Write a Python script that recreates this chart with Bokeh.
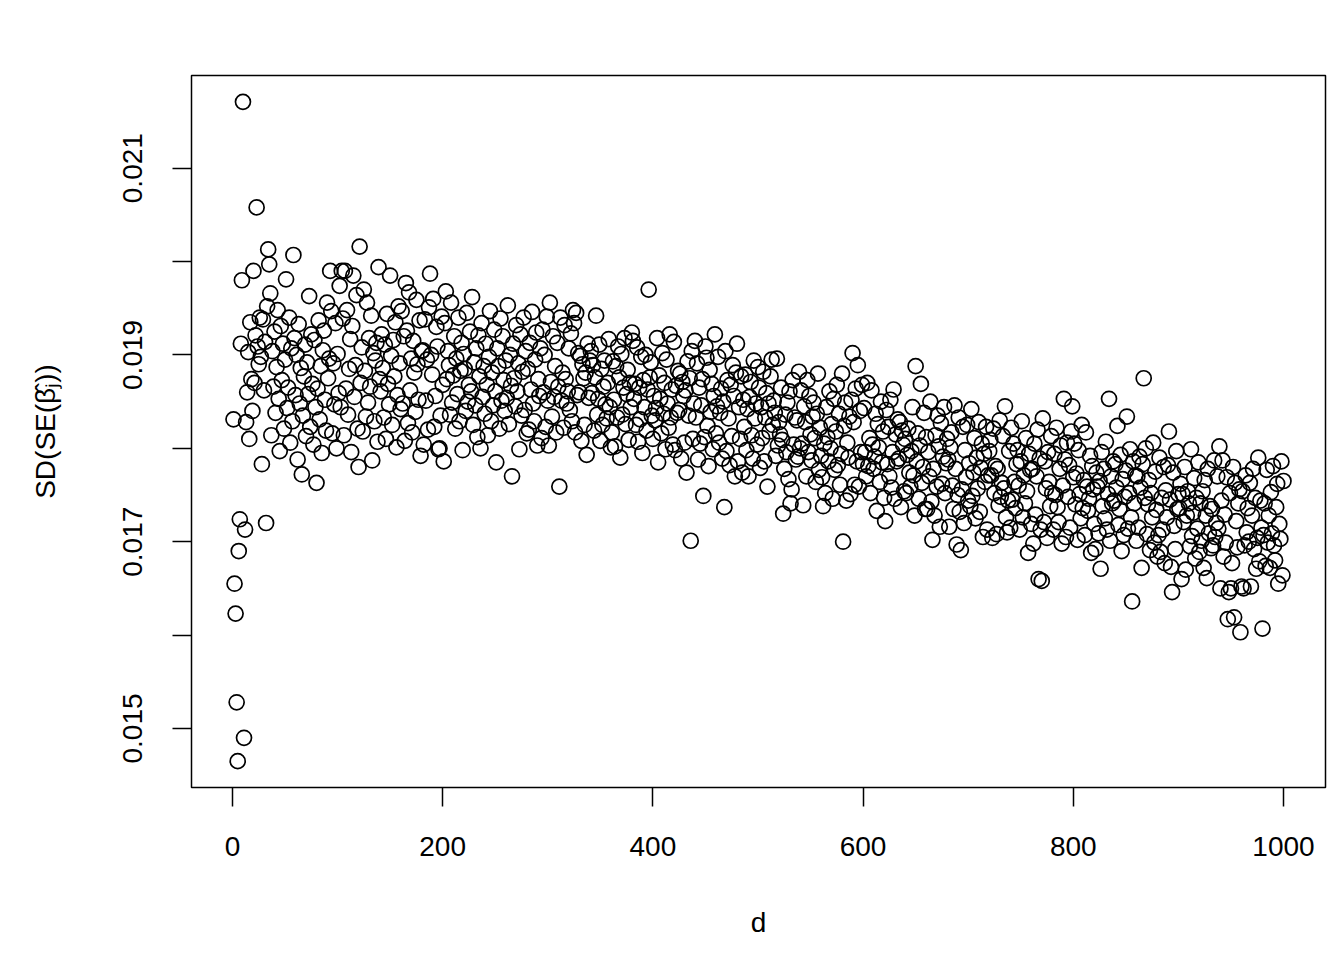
from bokeh.plotting import figure
from bokeh.models import Range1d, FixedTicker, CustomJSTickFormatter
from bokeh.embed import file_html
from bokeh.resources import INLINE

# SD of the standard errors, one value per d = 1..1000
sd_se = [
    0.01831, 0.01655, 0.01623, 0.01528, 0.01465, 0.01690, 0.01724, 0.01912, 0.01980, 0.02171, 0.01490, 0.01713, 0.01828, 0.01860, 0.01903, 0.01810, 0.01935, 0.01874, 0.01840, 0.01990,
    0.01870, 0.01921, 0.02058, 0.01909, 0.01890, 0.01940, 0.01898, 0.01783, 0.01938, 0.01862, 0.01914, 0.01720, 0.01952, 0.02013, 0.01997, 0.01966, 0.01814, 0.01904, 0.01866, 0.01925,
    0.01838, 0.01887, 0.01948, 0.01853, 0.01797, 0.01931, 0.01873, 0.01912, 0.01821, 0.01895, 0.01981, 0.01843, 0.01865, 0.01940, 0.01806, 0.01907, 0.01829, 0.02007, 0.01918, 0.01857,
    0.01900, 0.01788, 0.01933, 0.01848, 0.01886, 0.01772, 0.01835, 0.01877, 0.01911, 0.01813, 0.01892, 0.01858, 0.01963, 0.01823, 0.01922, 0.01869, 0.01804, 0.01916, 0.01844, 0.01763,
    0.01864, 0.01937, 0.01831, 0.01888, 0.01795, 0.01905, 0.01926, 0.01852, 0.01819, 0.01956, 0.01875, 0.01896, 0.01990, 0.01947, 0.01816, 0.01891, 0.01847, 0.01934, 0.01800, 0.01901,
    0.01859, 0.01974, 0.01844, 0.01990, 0.01939, 0.01814, 0.01990, 0.01864, 0.01948, 0.01836, 0.01885, 0.01917, 0.01796, 0.01931, 0.01985, 0.01855, 0.01889, 0.01964, 0.01821, 0.01780,
    0.02016, 0.01870, 0.01908, 0.01818, 0.01970, 0.01883, 0.01834, 0.01956, 0.01849, 0.01918, 0.01866, 0.01942, 0.01787, 0.01902, 0.01829, 0.01894, 0.01913, 0.01807, 0.01994, 0.01874,
    0.01861, 0.01922, 0.01886, 0.01833, 0.01911, 0.01810, 0.01944, 0.01869, 0.01847, 0.01985, 0.01899, 0.01825, 0.01916, 0.01877, 0.01935, 0.01801, 0.01857, 0.01952, 0.01891, 0.01842,
    0.01947, 0.01848, 0.01920, 0.01808, 0.01977, 0.01926, 0.01827, 0.01967, 0.01862, 0.01896, 0.01817, 0.01915, 0.01881, 0.01839, 0.01959, 0.01890, 0.01852, 0.01937, 0.01792, 0.01904,
    0.01905, 0.01804, 0.01938, 0.01851, 0.01895, 0.01820, 0.01951, 0.01987, 0.01900, 0.01879, 0.01960, 0.01823, 0.01856, 0.01930, 0.01909, 0.01799, 0.01800, 0.01835, 0.01941, 0.01868,
    0.01786, 0.01934, 0.01968, 0.01874, 0.01904, 0.01889, 0.01836, 0.01956, 0.01849, 0.01878, 0.01920, 0.01821, 0.01896, 0.01858, 0.01940, 0.01829, 0.01883, 0.01913, 0.01798, 0.01901,
    0.01885, 0.01840, 0.01945, 0.01850, 0.01868, 0.01925, 0.01861, 0.01962, 0.01825, 0.01892, 0.01846, 0.01907, 0.01812, 0.01921, 0.01877, 0.01800, 0.01934, 0.01855, 0.01888, 0.01837,
    0.01912, 0.01868, 0.01814, 0.01898, 0.01947, 0.01829, 0.01881, 0.01846, 0.01927, 0.01861, 0.01785, 0.01907, 0.01888, 0.01821, 0.01939, 0.01851, 0.01920, 0.01873, 0.01840, 0.01894,
    0.01854, 0.01953, 0.01826, 0.01900, 0.01867, 0.01770, 0.01912, 0.01875, 0.01845, 0.01932, 0.01861, 0.01891, 0.01799, 0.01922, 0.01835, 0.01882, 0.01940, 0.01841, 0.01904, 0.01816,
    0.01885, 0.01820, 0.01913, 0.01863, 0.01946, 0.01848, 0.01829, 0.01895, 0.01924, 0.01803, 0.01874, 0.01856, 0.01907, 0.01811, 0.01927, 0.01860, 0.01900, 0.01823, 0.01941, 0.01851,
    0.01803, 0.01956, 0.01871, 0.01834, 0.01920, 0.01855, 0.01888, 0.01817, 0.01913, 0.01866, 0.01759, 0.01940, 0.01851, 0.01881, 0.01822, 0.01932, 0.01874, 0.01848, 0.01861, 0.01907,
    0.01841, 0.01923, 0.01829, 0.01948, 0.01934, 0.01817, 0.01945, 0.01857, 0.01902, 0.01860, 0.01899, 0.01808, 0.01890, 0.01875, 0.01825, 0.01881, 0.01793, 0.01912, 0.01854, 0.01894,
    0.01904, 0.01859, 0.01889, 0.01819, 0.01876, 0.01942, 0.01836, 0.01853, 0.01911, 0.01808, 0.01885, 0.01825, 0.01866, 0.01894, 0.01847, 0.01832, 0.01870, 0.01917, 0.01844, 0.01801,
    0.01817, 0.01893, 0.01852, 0.01802, 0.01888, 0.01833, 0.01909, 0.01876, 0.01790, 0.01901, 0.01836, 0.01865, 0.01918, 0.01826, 0.01858, 0.01884, 0.01809, 0.01870, 0.01844, 0.01924,
    0.01915, 0.01853, 0.01869, 0.01825, 0.01908, 0.01807, 0.01865, 0.01831, 0.01898, 0.01795, 0.01873, 0.01844, 0.01900, 0.01819, 0.01863, 0.01970, 0.01876, 0.01892, 0.01835, 0.01810,
    0.01856, 0.01830, 0.01843, 0.01918, 0.01785, 0.01878, 0.01853, 0.01816, 0.01902, 0.01837, 0.01870, 0.01799, 0.01895, 0.01848, 0.01822, 0.01922, 0.01833, 0.01863, 0.01804, 0.01914,
    0.01798, 0.01867, 0.01838, 0.01883, 0.01841, 0.01880, 0.01789, 0.01871, 0.01856, 0.01806, 0.01862, 0.01774, 0.01893, 0.01835, 0.01875, 0.01701, 0.01904, 0.01810, 0.01848, 0.01915,
    0.01833, 0.01891, 0.01788, 0.01865, 0.01805, 0.01846, 0.01874, 0.01749, 0.01812, 0.01909, 0.01897, 0.01824, 0.01781, 0.01884, 0.01839, 0.01869, 0.01799, 0.01856, 0.01922, 0.01816,
    0.01845, 0.01898, 0.01806, 0.01838, 0.01864, 0.01789, 0.01850, 0.01737, 0.01904, 0.01797, 0.01873, 0.01832, 0.01782, 0.01868, 0.01813, 0.01889, 0.01856, 0.01770, 0.01881, 0.01912,
    0.01786, 0.01844, 0.01810, 0.01877, 0.01774, 0.01852, 0.01823, 0.01879, 0.01798, 0.01842, 0.01770, 0.01855, 0.01871, 0.01814, 0.01789, 0.01894, 0.01832, 0.01848, 0.01804, 0.01887,
    0.01865, 0.01779, 0.01844, 0.01811, 0.01882, 0.01786, 0.01833, 0.01859, 0.01759, 0.01848, 0.01818, 0.01877, 0.01895, 0.01825, 0.01851, 0.01838, 0.01792, 0.01896, 0.01803, 0.01828,
    0.01815, 0.01865, 0.01809, 0.01730, 0.01778, 0.01836, 0.01796, 0.01849, 0.01767, 0.01861, 0.01741, 0.01756, 0.01873, 0.01804, 0.01833, 0.01788, 0.01830, 0.01791, 0.01882, 0.01800,
    0.01862, 0.01805, 0.01739, 0.01845, 0.01828, 0.01770, 0.01873, 0.01796, 0.01856, 0.01815, 0.01787, 0.01834, 0.01849, 0.01811, 0.01764, 0.01837, 0.01880, 0.01777, 0.01822, 0.01792,
    0.01769, 0.01738, 0.01805, 0.01752, 0.01844, 0.01812, 0.01786, 0.01861, 0.01800, 0.01826, 0.01746, 0.01853, 0.01777, 0.01818, 0.01868, 0.01782, 0.01837, 0.01761, 0.01794, 0.01880,
    0.01700, 0.01824, 0.01849, 0.01744, 0.01806, 0.01790, 0.01834, 0.01751, 0.01852, 0.01902, 0.01828, 0.01761, 0.01864, 0.01786, 0.01889, 0.01759, 0.01840, 0.01796, 0.01868, 0.01783,
    0.01843, 0.01796, 0.01770, 0.01870, 0.01781, 0.01811, 0.01752, 0.01862, 0.01804, 0.01778, 0.01791, 0.01837, 0.01733, 0.01826, 0.01801, 0.01764, 0.01850, 0.01785, 0.01818, 0.01747,
    0.01722, 0.01841, 0.01783, 0.01823, 0.01770, 0.01852, 0.01758, 0.01796, 0.01863, 0.01746, 0.01815, 0.01786, 0.01831, 0.01789, 0.01828, 0.01737, 0.01819, 0.01804, 0.01754, 0.01810,
    0.01752, 0.01793, 0.01821, 0.01774, 0.01759, 0.01797, 0.01844, 0.01771, 0.01728, 0.01888, 0.01786, 0.01816, 0.01746, 0.01803, 0.01869, 0.01763, 0.01780, 0.01838, 0.01735, 0.01812,
    0.01735, 0.01796, 0.01770, 0.01850, 0.01743, 0.01702, 0.01778, 0.01728, 0.01814, 0.01759, 0.01835, 0.01802, 0.01716, 0.01827, 0.01762, 0.01791, 0.01844, 0.01752, 0.01784, 0.01810,
    0.01788, 0.01716, 0.01801, 0.01817, 0.01760, 0.01735, 0.01846, 0.01778, 0.01697, 0.01750, 0.01833, 0.01732, 0.01691, 0.01756, 0.01823, 0.01720, 0.01798, 0.01769, 0.01825, 0.01744,
    0.01784, 0.01738, 0.01842, 0.01749, 0.01774, 0.01811, 0.01725, 0.01790, 0.01757, 0.01828, 0.01732, 0.01779, 0.01805, 0.01705, 0.01794, 0.01764, 0.01823, 0.01713, 0.01771, 0.01797,
    0.01809, 0.01771, 0.01704, 0.01821, 0.01752, 0.01781, 0.01708, 0.01778, 0.01739, 0.01830, 0.01748, 0.01763, 0.01813, 0.01757, 0.01845, 0.01726, 0.01710, 0.01744, 0.01797, 0.01715,
    0.01822, 0.01745, 0.01805, 0.01764, 0.01736, 0.01783, 0.01798, 0.01760, 0.01713, 0.01786, 0.01829, 0.01726, 0.01771, 0.01741, 0.01811, 0.01754, 0.01688, 0.01794, 0.01777, 0.01719,
    0.01778, 0.01698, 0.01805, 0.01729, 0.01770, 0.01820, 0.01660, 0.01789, 0.01713, 0.01658, 0.01832, 0.01721, 0.01786, 0.01757, 0.01704, 0.01796, 0.01764, 0.01738, 0.01813, 0.01752,
    0.01713, 0.01794, 0.01750, 0.01822, 0.01737, 0.01721, 0.01778, 0.01803, 0.01698, 0.01760, 0.01853, 0.01788, 0.01705, 0.01806, 0.01748, 0.01782, 0.01715, 0.01818, 0.01845, 0.01769,
    0.01805, 0.01740, 0.01773, 0.01702, 0.01798, 0.01751, 0.01725, 0.01825, 0.01736, 0.01766, 0.01707, 0.01817, 0.01759, 0.01733, 0.01746, 0.01792, 0.01688, 0.01781, 0.01756, 0.01719,
    0.01692, 0.01774, 0.01759, 0.01709, 0.01765, 0.01671, 0.01796, 0.01738, 0.01778, 0.01725, 0.01807, 0.01713, 0.01751, 0.01853, 0.01701, 0.01770, 0.01741, 0.01786, 0.01744, 0.01783,
    0.01758, 0.01824, 0.01718, 0.01735, 0.01793, 0.01690, 0.01767, 0.01707, 0.01748, 0.01776, 0.01834, 0.01714, 0.01752, 0.01799, 0.01726, 0.01636, 0.01786, 0.01741, 0.01771, 0.01701,
    0.01770, 0.01715, 0.01791, 0.01758, 0.01672, 0.01783, 0.01875, 0.01747, 0.01800, 0.01708, 0.01740, 0.01766, 0.01691, 0.01752, 0.01726, 0.01806, 0.01699, 0.01775, 0.01734, 0.01684,
    0.01707, 0.01790, 0.01689, 0.01747, 0.01713, 0.01780, 0.01677, 0.01755, 0.01726, 0.01782, 0.01818, 0.01745, 0.01673, 0.01646, 0.01774, 0.01717, 0.01692, 0.01797, 0.01735, 0.01751,
    0.01736, 0.01762, 0.01660, 0.01751, 0.01721, 0.01780, 0.01670, 0.01728, 0.01754, 0.01741, 0.01695, 0.01799, 0.01706, 0.01731, 0.01768, 0.01682, 0.01747, 0.01714, 0.01785, 0.01689,
    0.01741, 0.01701, 0.01754, 0.01672, 0.01766, 0.01728, 0.01661, 0.01778, 0.01709, 0.01738, 0.01693, 0.01735, 0.01696, 0.01787, 0.01705, 0.01720, 0.01770, 0.01714, 0.01802, 0.01650,
    0.01744, 0.01787, 0.01684, 0.01729, 0.01699, 0.01769, 0.01617, 0.01646, 0.01752, 0.01650, 0.01677, 0.01780, 0.01619, 0.01763, 0.01722, 0.01694, 0.01741, 0.01756, 0.01603, 0.01652,
    0.01754, 0.01650, 0.01696, 0.01771, 0.01710, 0.01736, 0.01700, 0.01763, 0.01652, 0.01728, 0.01778, 0.01692, 0.01747, 0.01671, 0.01704, 0.01790, 0.01679, 0.01744, 0.01715, 0.01607,
    0.01707, 0.01741, 0.01674, 0.01777, 0.01699, 0.01728, 0.01672, 0.01753, 0.01709, 0.01781, 0.01696, 0.01680, 0.01737, 0.01762, 0.01655, 0.01719, 0.01703, 0.01786, 0.01664, 0.01765,
]
d = list(range(1, len(sd_se) + 1))

x_ticks = [0, 200, 400, 600, 800, 1000]
y_ticks = [0.015, 0.016, 0.017, 0.018, 0.019, 0.020, 0.021]
y_tick_labels = ["0.015", "0.017", "0.019", "0.021"]

x_title = "d"
y_title = "SD(SE(\u03b2\u0302\u2c7c))"


def padded(lo, hi, frac=0.04):
    r = hi - lo
    return lo - frac * r, hi + frac * r


xlo, xhi = padded(min(d), max(d))
ylo, yhi = padded(min(sd_se), max(sd_se))

FONT = "Liberation Sans"

p = figure(
    width=1336, height=948,
    x_range=Range1d(xlo, xhi), y_range=Range1d(ylo, yhi),
    output_backend="svg", toolbar_location=None,
    min_border_left=191, min_border_right=11, min_border_top=75, min_border_bottom=161,
    background_fill_color="white", border_fill_color="white",
    outline_line_color="black", outline_line_width=1.5,
)
p.grid.visible = False

p.scatter(d, sd_se, marker="circle", size=15, fill_color=None,
          line_color="black", line_width=1.7)

for ax in (p.xaxis[0], p.yaxis[0]):
    ax.axis_line_color = None
    ax.major_tick_line_color = "black"
    ax.major_tick_line_width = 1.5
    ax.major_tick_out = 19
    ax.major_tick_in = 0
    ax.minor_tick_line_color = None
    ax.major_label_text_font = FONT
    ax.major_label_text_font_size = "28px"
    ax.major_label_text_color = "black"
    ax.axis_label_text_font = FONT
    ax.axis_label_text_font_size = "28px"
    ax.axis_label_text_font_style = "normal"
    ax.axis_label_text_color = "black"

p.xaxis.ticker = FixedTicker(ticks=x_ticks)
p.xaxis.axis_label = x_title
p.xaxis.major_label_standoff = 30
p.xaxis.axis_label_standoff = 48

p.yaxis.ticker = FixedTicker(ticks=y_ticks)
p.yaxis.formatter = CustomJSTickFormatter(
    args=dict(labelled=y_tick_labels),
    code="const s = tick.toFixed(3); return labelled.includes(s) ? s : '';",
)
p.yaxis.major_label_orientation = "vertical"
p.yaxis.axis_label = y_title
p.yaxis.major_label_standoff = 30
p.yaxis.axis_label_standoff = 60

open("out.html", "w").write(file_html(p, INLINE))
